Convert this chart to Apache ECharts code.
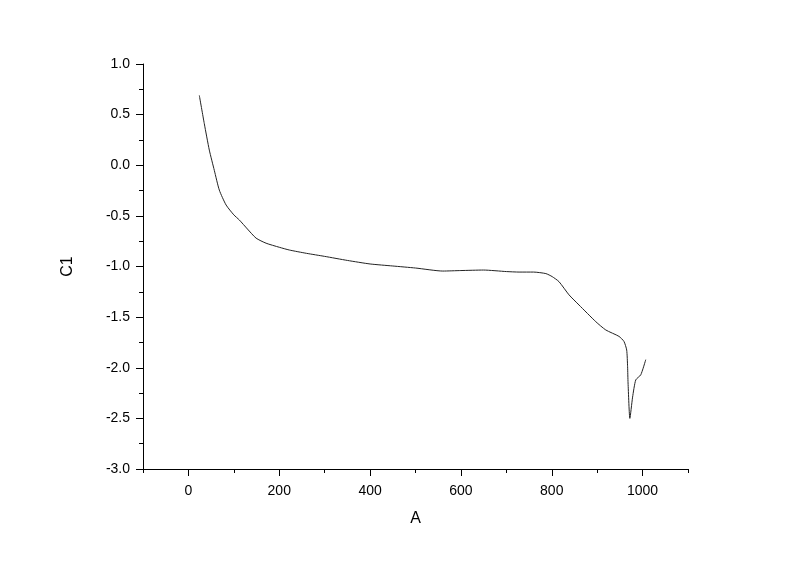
<!DOCTYPE html>
<html>
<head>
<meta charset="utf-8">
<script src="https://cdn.jsdelivr.net/npm/echarts@6/dist/echarts.min.js"></script>
<style>
  html, body { margin: 0; padding: 0; background: #fff; }
  #chart { width: 800px; height: 564px; }
</style>
</head>
<body>
<div id="chart"></div>
<script>
  // data
  var xValues = [24, 35, 46, 57, 68, 83, 100, 112, 130, 149, 171, 200, 222, 260, 300, 350, 400, 450, 500, 560,
                 600, 650, 700, 728, 760, 787, 801, 816, 838, 860, 897, 919, 948, 959, 965, 967, 968, 972,
                 978, 985, 996, 1007];
  var c1Values = [0.69, 0.41, 0.15, -0.05, -0.245, -0.393, -0.49, -0.54, -0.63, -0.72, -0.77, -0.81, -0.837,
                  -0.87, -0.90, -0.94, -0.975, -0.995, -1.015, -1.045, -1.04, -1.035, -1.05, -1.055, -1.055,
                  -1.07, -1.10, -1.15, -1.28, -1.38, -1.545, -1.627, -1.69, -1.74, -1.825, -1.99, -2.15, -2.5,
                  -2.29, -2.12, -2.07, -1.92];
  var xMajorTicks = [0, 200, 400, 600, 800, 1000];
  var xMinorTicks = [-100, 100, 300, 500, 700, 900, 1100];

  var points = xValues.map(function (x, i) { return [x, c1Values[i]]; });

  var font = 'Liberation Sans, Arial, sans-serif';
  var chart = echarts.init(document.getElementById('chart'));
  chart.setOption({
    animation: false,
    grid: { left: 143, right: 112, top: 64, bottom: 95 },
    xAxis: [{
      type: 'value',
      min: -100,
      max: 1100,
      name: 'A',
      nameLocation: 'middle',
      nameGap: 42,
      nameTextStyle: { color: '#000', fontSize: 16, fontFamily: font },
      axisLine: { onZero: false, lineStyle: { color: '#000', width: 1 } },
      axisTick: { customValues: xMajorTicks, length: 7, lineStyle: { color: '#000' } },
      axisLabel: {
        customValues: xMajorTicks, margin: 15, color: '#000', fontSize: 14, fontFamily: font,
        formatter: function (v) { return String(v); }
      },
      splitLine: { show: false }
    }, {
      // minor ticks at the odd hundreds
      type: 'value',
      min: -100,
      max: 1100,
      position: 'bottom',
      axisLine: { show: false, onZero: false },
      axisTick: { customValues: xMinorTicks, length: 4, lineStyle: { color: '#000' } },
      axisLabel: { show: false },
      splitLine: { show: false }
    }],
    yAxis: {
      type: 'value',
      min: -3,
      max: 1,
      interval: 0.5,
      name: 'C1',
      nameLocation: 'middle',
      nameGap: 67,
      nameTextStyle: { color: '#000', fontSize: 16, fontFamily: font },
      axisLine: { show: true, onZero: false, lineStyle: { color: '#000', width: 1 } },
      axisTick: { show: true, length: 7, lineStyle: { color: '#000' } },
      minorTick: { show: true, splitNumber: 2, length: 4, lineStyle: { color: '#000' } },
      axisLabel: {
        margin: 13, color: '#000', fontSize: 14, fontFamily: font,
        formatter: function (v) { return v.toFixed(1); }
      },
      splitLine: { show: false }
    },
    series: [{
      type: 'line',
      xAxisIndex: 0,
      data: points,
      showSymbol: false,
      smooth: 0.2,
      lineStyle: { color: '#222', width: 1 }
    }]
  });
</script>
</body>
</html>
